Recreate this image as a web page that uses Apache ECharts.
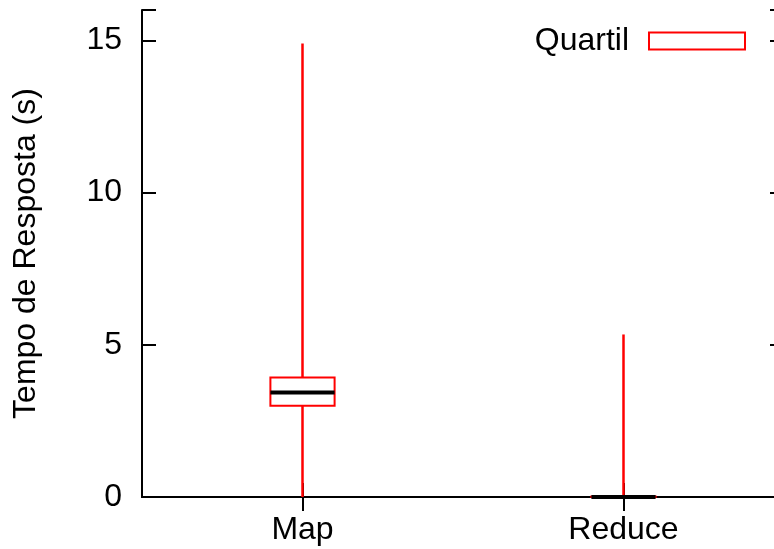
<!DOCTYPE html>
<html>
<head>
<meta charset="utf-8">
<script src="https://cdn.jsdelivr.net/npm/echarts@6/dist/echarts.min.js"></script>
<style>html,body{margin:0;padding:0;background:#fff;}#c{width:774px;height:549px;}</style>
</head>
<body>
<div id="c"></div>
<script>
var categories = ['Map', 'Reduce'];
var minVals = [0, 0];
var q1Vals = [3.0, 0];
var medianVals = [3.43, 0];
var q3Vals = [3.93, 0.02];
var maxVals = [14.9, 5.34];
var yTicks = [0, 5, 10, 15];
var seriesName = 'Quartil';

var data = categories.map(function (c, i) {
  return [i, minVals[i], q1Vals[i], medianVals[i], q3Vals[i], maxVals[i]];
});

var FONT = 'Liberation Sans, Arial, sans-serif';
var FS = 32;
var chart = echarts.init(document.getElementById('c'));

function renderItem(params, api) {
  var x = api.value(0);
  var pMin = api.coord([x, api.value(1)]);
  var pQ1 = api.coord([x, api.value(2)]);
  var pMed = api.coord([x, api.value(3)]);
  var pQ3 = api.coord([x, api.value(4)]);
  var pMax = api.coord([x, api.value(5)]);
  var bw = api.size([1, 0])[0] * 0.2;
  var cx = pMin[0];
  return {
    type: 'group',
    children: [
      { type: 'line', shape: { x1: cx, y1: pMin[1], x2: cx, y2: pMax[1] },
        style: { stroke: '#ff0000', lineWidth: 2.5 } },
      { type: 'rect', shape: { x: cx - bw / 2, y: pQ3[1], width: bw, height: Math.max(pQ1[1] - pQ3[1], 0.5) },
        style: { fill: '#ffffff', stroke: '#ff0000', lineWidth: 2 } },
      { type: 'line', shape: { x1: cx - bw / 2, y1: pMed[1], x2: cx + bw / 2, y2: pMed[1] },
        style: { stroke: '#000000', lineWidth: 4 } }
    ]
  };
}

var option = {
  animation: false,
  backgroundColor: '#ffffff',
  grid: { left: 142, width: 642, top: 10, bottom: 52, containLabel: false, outerBoundsMode: 'none' },
  legend: {
    right: 28, top: 25, padding: 0,
    align: 'right',
    itemWidth: 96, itemHeight: 17,
    data: [{ name: seriesName, icon: 'rect',
      itemStyle: { color: '#ffffff', borderColor: '#ff0000', borderWidth: 2 } }],
    textStyle: { fontFamily: FONT, fontSize: FS, color: '#000', padding: [0, 15, 0, 0] }
  },
  xAxis: [{
    type: 'category', data: categories, boundaryGap: true,
    axisLine: { show: true, lineStyle: { color: '#000', width: 2 } },
    axisTick: { show: true, inside: true, length: 14, alignWithLabel: true, lineStyle: { color: '#000', width: 2 } },
    axisLabel: { fontFamily: FONT, fontSize: FS, color: '#000', margin: 17 },
    splitLine: { show: false }
  }, {
    type: 'category', data: categories, boundaryGap: true, position: 'top',
    axisLine: { show: true, lineStyle: { color: '#000', width: 2 } },
    axisTick: { show: true, inside: true, length: 14, alignWithLabel: true, lineStyle: { color: '#000', width: 2 } },
    axisLabel: { show: false },
    splitLine: { show: false }
  }],
  yAxis: [{
    type: 'value', min: 0, max: 16, interval: 5,
    name: 'Tempo de Resposta (s)', nameLocation: 'middle', nameGap: 100,
    nameTextStyle: { fontFamily: FONT, fontSize: FS, color: '#000' },
    axisLine: { show: true, lineStyle: { color: '#000', width: 2 } },
    axisTick: { show: true, inside: true, length: 14, lineStyle: { color: '#000', width: 2 } },
    axisLabel: { fontFamily: FONT, fontSize: FS, color: '#000', margin: 20,
      formatter: function (v) { return yTicks.indexOf(v) >= 0 ? String(v) : ''; } },
    splitLine: { show: false }
  }, {
    type: 'value', min: 0, max: 16, interval: 5, position: 'right',
    axisLine: { show: true, lineStyle: { color: '#000', width: 2 } },
    axisTick: { show: true, inside: true, length: 14, lineStyle: { color: '#000', width: 2 } },
    axisLabel: { show: false },
    splitLine: { show: false }
  }],
  series: [{
    name: seriesName,
    type: 'custom',
    renderItem: renderItem,
    xAxisIndex: 0, yAxisIndex: 0,
    itemStyle: { color: '#ffffff', borderColor: '#ff0000', borderWidth: 2 },
    encode: { x: 0, y: [1, 2, 3, 4, 5] },
    data: data
  }]
};
chart.setOption(option);
</script>
</body>
</html>
